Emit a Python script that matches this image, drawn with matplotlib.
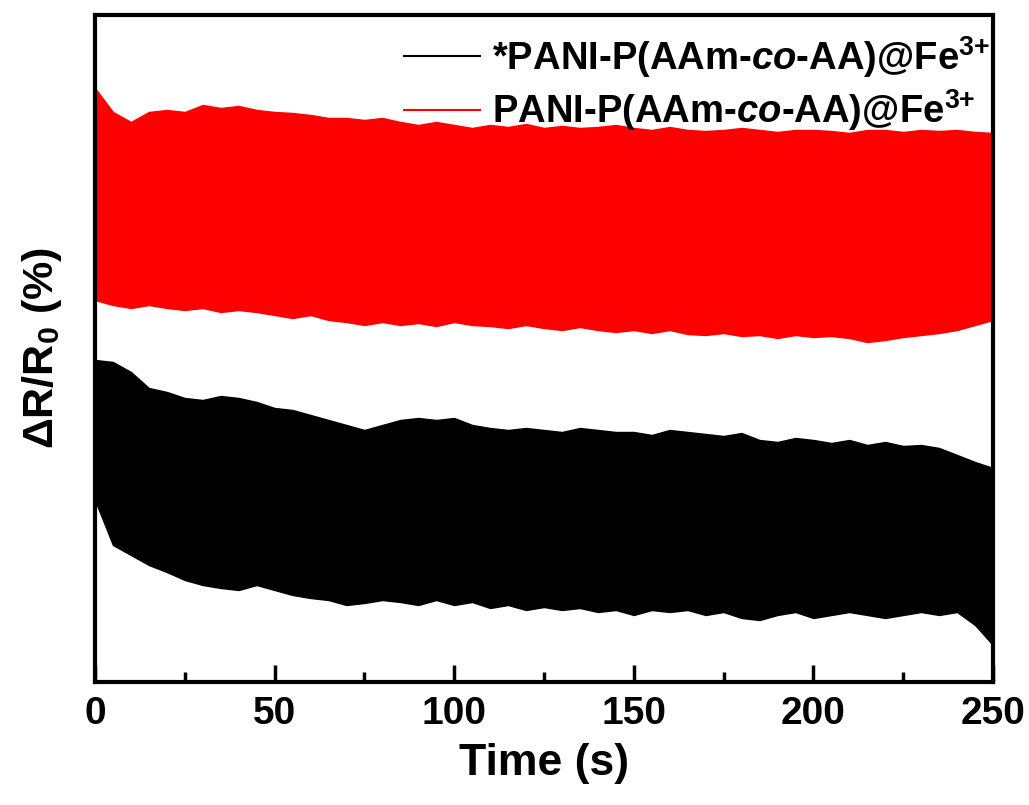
import numpy as np
import matplotlib
matplotlib.use('Agg')
import matplotlib.pyplot as plt
from matplotlib.ticker import MultipleLocator

plt.rcParams['font.family'] = ['Liberation Sans', 'DejaVu Sans']
plt.rcParams['font.weight'] = 'bold'
plt.rcParams['mathtext.fontset'] = 'custom'
plt.rcParams['mathtext.rm'] = 'Liberation Sans:bold'
plt.rcParams['mathtext.it'] = 'Liberation Sans:bold:italic'
plt.rcParams['mathtext.bf'] = 'Liberation Sans:bold'

# time grid of the envelope readings (s)
time = np.arange(0, 251, 5)

# red sample: upper / lower envelope of the oscillating signal (arb. units)
red_upper = [594, 570, 560, 570, 572, 570, 577, 574, 576, 572, 570, 569, 567,
             564, 564, 562, 564, 560, 557, 560, 557, 554, 557, 555, 558, 554,
             556, 554, 555, 557, 554, 552, 555, 552, 551, 552, 554, 552, 550,
             552, 552, 551, 549, 552, 552, 550, 552, 551, 552, 550, 549]
red_lower = [382, 377, 374, 377, 374, 372, 374, 370, 372, 370, 367, 364, 367,
             362, 360, 357, 360, 357, 359, 356, 360, 357, 356, 354, 357, 354,
             352, 355, 352, 350, 352, 349, 352, 348, 347, 349, 346, 347, 344,
             347, 345, 346, 344, 340, 342, 345, 347, 349, 352, 357, 362]

# black sample (*PANI...): upper / lower envelope
black_upper = [322, 320, 310, 294, 290, 284, 282, 286, 284, 280, 274, 272, 267,
               262, 257, 252, 257, 262, 264, 262, 264, 257, 254, 252, 254, 252,
               250, 254, 252, 250, 250, 247, 252, 250, 248, 246, 249, 242, 240,
               244, 242, 239, 242, 237, 240, 236, 237, 234, 227, 220, 214]
black_lower = [182, 137, 127, 117, 110, 102, 97, 94, 92, 97, 92, 87, 84,
               82, 77, 79, 82, 80, 77, 82, 77, 80, 74, 77, 72, 75,
               72, 74, 70, 72, 67, 72, 70, 72, 67, 70, 64, 62, 67,
               70, 64, 67, 70, 67, 64, 67, 70, 67, 70, 57, 37]

labels = [r'*PANI-P(AAm-$\mathit{co}$-AA)@Fe$^{\text{3+}}$',
          r'PANI-P(AAm-$\mathit{co}$-AA)@Fe$^{\text{3+}}$']

fig = plt.figure(figsize=(10.29, 8.05), dpi=100)
ax = fig.add_axes([0.0923, 0.1528, 0.8727, 0.8286])

ax.fill_between(time, black_lower, black_upper, color='black', lw=1)
ax.fill_between(time, red_lower, red_upper, color='red', lw=1)
ax.plot([], [], color='black', lw=1.5, label=labels[0])
ax.plot([], [], color='red', lw=1.5, label=labels[1])

ax.set_xlim(0, 250)
ax.set_ylim(0, 667)
ax.xaxis.set_major_locator(MultipleLocator(50))
ax.xaxis.set_minor_locator(MultipleLocator(25))
ax.tick_params(axis='x', which='major', direction='in', length=12, width=2.5,
               labelsize=28, pad=10)
ax.tick_params(axis='x', which='minor', direction='in', length=7, width=2.5)
ax.set_yticks([])
for s in ax.spines.values():
    s.set_linewidth(3)

ax.set_xlabel('Time (s)', fontsize=32, fontweight='bold', labelpad=8)
ax.set_ylabel(r'$\Delta$R/R$_0$ (%)', fontsize=31, fontweight='bold', labelpad=22)

ax.legend(loc='upper right', frameon=False, fontsize=27.5, handlelength=2.0,
          handletextpad=0.3, borderaxespad=0.1, labelspacing=0.2,
          bbox_to_anchor=(1.018, 1.0))

fig.savefig('out.png', dpi=100)
